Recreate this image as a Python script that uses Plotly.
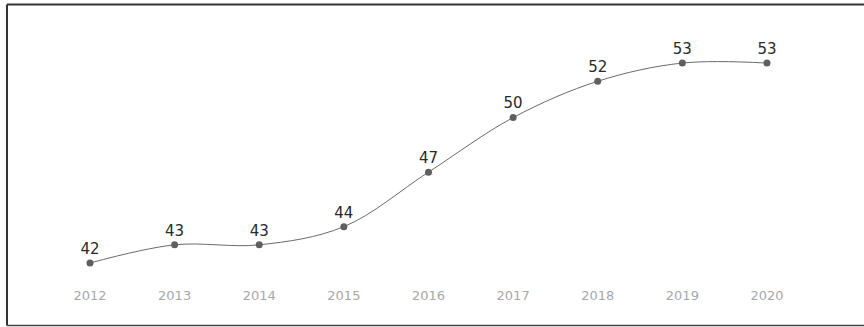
import plotly.graph_objects as go

years = [2012, 2013, 2014, 2015, 2016, 2017, 2018, 2019, 2020]
values = [42, 43, 43, 44, 47, 50, 52, 53, 53]
tick_labels = [str(y) for y in years]

fig = go.Figure()
fig.add_trace(go.Scatter(
    x=years, y=values,
    mode="lines+markers+text",
    line=dict(shape="spline", smoothing=1.0, color="#6a6a6a", width=1),
    marker=dict(size=7, color="#5f5f5f"),
    text=[str(v) for v in values],
    textposition="top center",
    textfont=dict(family="DejaVu Sans", size=15, color="#2a2a2a"),
    cliponaxis=False,
    showlegend=False,
))

fig.update_layout(
    width=864, height=327,
    margin=dict(l=0, r=0, t=0, b=41),
    paper_bgcolor="white", plot_bgcolor="white",
    xaxis=dict(
        range=[2010.9365, 2021.1465],
        tickvals=years, ticktext=tick_labels,
        showgrid=False, zeroline=False, showline=False,
        ticks="", tickfont=dict(family="DejaVu Sans", size=13, color="#a8a8a8"),
    ),
    yaxis=dict(
        range=[40.735, 56.47],
        showgrid=False, zeroline=False, showline=False,
        showticklabels=False, ticks="",
    ),
    shapes=[
        dict(type="line", xref="paper", yref="paper",
             x0=7/864, x1=7/864, y0=(286-4.5)/286, y1=(286-325.5)/286,
             line=dict(color="#333333", width=2)),
        dict(type="line", xref="paper", yref="paper",
             x0=7/864, x1=1.01, y0=(286-4.5)/286, y1=(286-4.5)/286,
             line=dict(color="#333333", width=2)),
        dict(type="line", xref="paper", yref="paper",
             x0=7/864, x1=1.01, y0=(286-325.5)/286, y1=(286-325.5)/286,
             line=dict(color="#444444", width=1.5)),
    ],
)

fig.write_html("out.html")
